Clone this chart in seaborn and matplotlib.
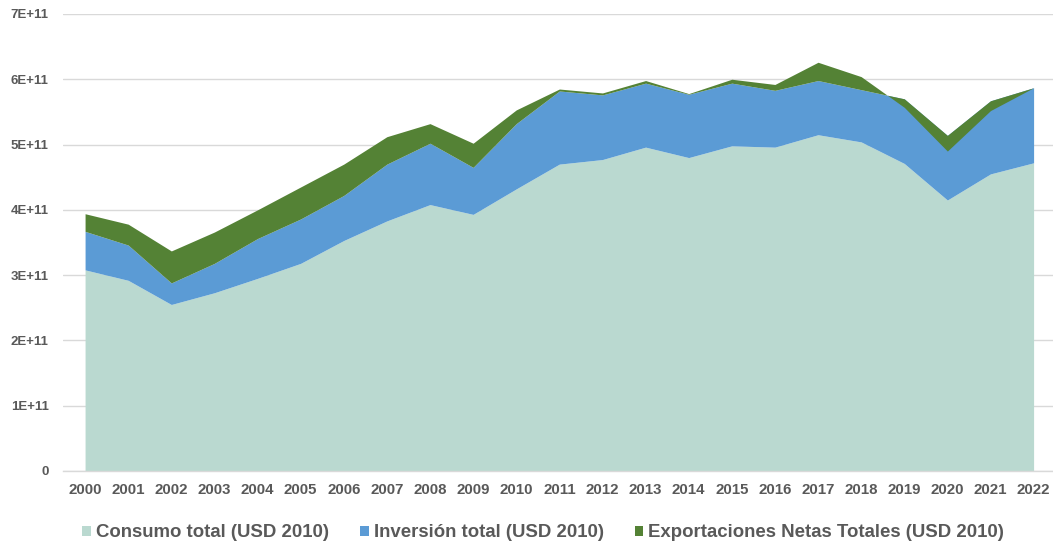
import numpy as np
import pandas as pd
import matplotlib
matplotlib.use("Agg")
import matplotlib.pyplot as plt
from matplotlib.patches import Patch
from matplotlib.ticker import FuncFormatter, MultipleLocator
import seaborn as sns

years = list(range(2000, 2023))
consumo = [3.08, 2.92, 2.55, 2.73, 2.95, 3.18, 3.53, 3.83, 4.08, 3.93, 4.32, 4.70,
           4.77, 4.96, 4.80, 4.98, 4.96, 5.15, 5.04, 4.71, 4.15, 4.55, 4.72]
inversion = [0.59, 0.54, 0.33, 0.45, 0.61, 0.68, 0.69, 0.87, 0.94, 0.72, 1.00, 1.12,
             0.99, 0.98, 0.97, 0.96, 0.87, 0.83, 0.80, 0.99, 0.99, 1.12, 1.15]
exportaciones = [0.27, 0.32, 0.49, 0.48, 0.44, 0.49, 0.48, 0.42, 0.30, 0.37, 0.21, 0.03,
                 0.03, 0.04, 0.01, 0.06, 0.09, 0.28, 0.20, -0.13, -0.24, -0.15, 0.00]
series_names = ["Consumo total (USD 2010)", "Inversión total (USD 2010)",
                "Exportaciones Netas Totales (USD 2010)"]
colors = ["#BAD9D0", "#5B9BD5", "#548235"]

scale = 1e11
df = pd.DataFrame({"year": years,
                   "c": np.array(consumo) * scale,
                   "i": np.array(inversion) * scale,
                   "x": np.array(exportaciones) * scale})
df["pos"] = np.arange(len(years))
df["s1"] = df["c"]
df["s2"] = df["c"] + df["i"]
df["s3"] = df["s2"] + df["x"]

sns.set_theme(style="white")
plt.rcParams["font.family"] = ["Liberation Sans", "DejaVu Sans"]
text_color = "#595959"

fig = plt.figure(figsize=(10.53, 5.47), dpi=100)
ax = fig.add_axes([0.0595, 0.139, 0.9405, 0.8355])

ax.fill_between(df["pos"], 0, df["s1"], color=colors[0], linewidth=0, zorder=2)
ax.fill_between(df["pos"], df["s1"], df["s2"], color=colors[1], linewidth=0, zorder=3)
ax.fill_between(df["pos"], df["s2"], df["s3"], color=colors[2], linewidth=0, zorder=4)
sns.lineplot(data=df, x="pos", y="s1", ax=ax, color=colors[0], linewidth=0, zorder=2)

ax.set_xlim(-0.52, 22.45)
ax.set_ylim(0, 7e11)
ax.yaxis.set_major_locator(MultipleLocator(1e11))
ax.yaxis.set_major_formatter(FuncFormatter(lambda v, p: "0" if abs(v) < 1 else f"{int(round(v / 1e11))}E+11"))
ax.set_xticks(df["pos"])
ax.set_xticklabels([str(y) for y in years])
ax.grid(axis="y", color="#D9D9D9", linewidth=1.0, zorder=0)
ax.grid(axis="x", visible=False)
ax.set_axisbelow(True)
for s in ["top", "right", "left"]:
    ax.spines[s].set_visible(False)
ax.spines["bottom"].set_color("#D9D9D9")
ax.spines["bottom"].set_linewidth(1.0)
ax.tick_params(axis="both", length=0)
ax.tick_params(axis="y", pad=10, labelsize=9.5, labelcolor=text_color)
ax.tick_params(axis="x", pad=9, labelsize=10.8, labelcolor=text_color)
for lab in ax.get_xticklabels() + ax.get_yticklabels():
    lab.set_fontweight("bold")
ax.set_xlabel("")
ax.set_ylabel("")

handles = [Patch(facecolor=c, edgecolor="none") for c in colors]
leg = fig.legend(handles, series_names, loc="center", bbox_to_anchor=(0.516, 0.026),
                 ncol=3, frameon=False, handlelength=0.46, handleheight=0.46,
                 handletextpad=0.27, columnspacing=1.67,
                 prop={"size": 13.4, "weight": "bold"})
for t in leg.get_texts():
    t.set_color(text_color)

fig.savefig("out.png", dpi=100)
